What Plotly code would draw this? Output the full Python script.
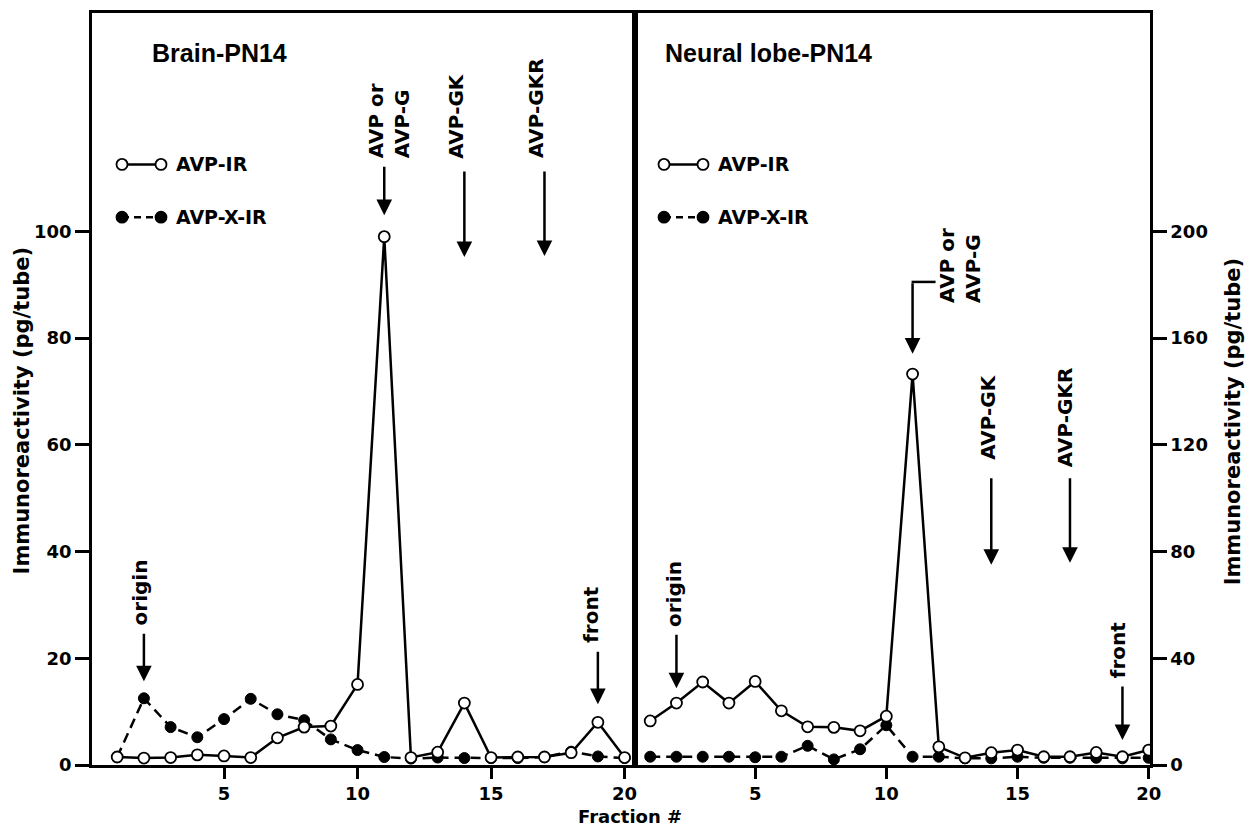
import plotly.graph_objects as go

# ---------------- data ----------------
fractions = list(range(1, 21))

brain_avp_ir = [1.5, 1.3, 1.4, 1.9, 1.7, 1.4, 5.1, 7.1, 7.3, 15.1,
                99.0, 1.4, 2.4, 11.6, 1.4, 1.5, 1.5, 2.3, 8.0, 1.4]
brain_avp_x_ir = [1.5, 12.5, 7.1, 5.2, 8.6, 12.4, 9.5, 8.4, 4.8, 2.8,
                  1.5, 1.2, 1.4, 1.3, 1.3, 1.3, 1.5, 2.5, 1.6, 1.3]

neural_avp_ir = [16.5, 23.2, 31.1, 23.2, 31.3, 20.3, 14.3, 14.1, 12.8, 18.3,
                 146.5, 6.8, 2.7, 4.6, 5.6, 3.1, 3.1, 4.7, 3.1, 5.6]
neural_avp_x_ir = [3.1, 3.1, 3.1, 3.1, 2.9, 3.1, 7.2, 2.1, 5.9, 14.9,
                   3.1, 3.1, 2.5, 2.5, 3.1, 2.7, 2.7, 2.7, 2.5, 2.7]

x_ticks = [5, 10, 15, 20]
left_yticks = [0, 20, 40, 60, 80, 100]
right_yticks = [0, 40, 80, 120, 160, 200]

# marker fractions for the arrows
origin_frac = 2
avp_frac = 11
gk_frac = 14
gkr_frac = 17
front_frac = 19

# ---------------- layout geometry ----------------
W, H = 1248, 829
L, R, T, B = 92, 1150, 10, 765
PW, PH = R - L, B - T


def px(x):
    return (x - L) / PW


def py(y):
    return (B - y) / PH


split = px(635)
FONT = "DejaVu Sans"
TITLE_FONT = "Liberation Sans"

fig = go.Figure()

open_marker = dict(symbol="circle", size=11, color="white",
                   line=dict(color="black", width=1.8))
filled_marker = dict(symbol="circle", size=11, color="black",
                     line=dict(color="black", width=1))
dash_line = dict(color="black", width=2.5, dash="10px,6px")
solid_line = dict(color="black", width=2.5)

for xa, ya, ir, xir in [("x", "y", brain_avp_ir, brain_avp_x_ir),
                        ("x2", "y2", neural_avp_ir, neural_avp_x_ir)]:
    fig.add_trace(go.Scatter(x=fractions, y=xir, mode="lines+markers",
                             line=dash_line, marker=filled_marker,
                             xaxis=xa, yaxis=ya, name="AVP-X-IR",
                             showlegend=False))
    fig.add_trace(go.Scatter(x=fractions, y=ir, mode="lines+markers",
                             line=solid_line, marker=open_marker,
                             xaxis=xa, yaxis=ya, name="AVP-IR",
                             showlegend=False))

tickfont = dict(family=FONT, size=18, color="black", weight="bold")
axis_common = dict(showline=True, linecolor="black", linewidth=2.5,
                   mirror=True, showgrid=False, zeroline=False,
                   ticks="outside", tickwidth=2.5,
                   tickcolor="black", tickfont=tickfont)

fig.update_layout(
    width=W, height=H,
    margin=dict(l=L, r=W - R, t=T, b=H - B),
    paper_bgcolor="white", plot_bgcolor="white",
    showlegend=False,
    xaxis=dict(domain=[0, split], range=[0.056, 20.39], tickvals=x_ticks,
               anchor="y", ticklen=11, **axis_common),
    yaxis=dict(domain=[0, 1], range=[0, 140.9], tickvals=left_yticks,
               anchor="x", ticklen=14, **axis_common),
    xaxis2=dict(domain=[split, 1], range=[0.42, 20.05], tickvals=x_ticks,
                anchor="y2", ticklen=11, **axis_common),
    yaxis2=dict(domain=[0, 1], range=[0, 281.8], tickvals=right_yticks,
                anchor="x2", side="right", ticklen=14, **axis_common),
)

ann_font = dict(family=FONT, size=20, color="black", weight="bold")
annotations = []
shapes = []


def label(text, xref, xval, xshift, ypix, yanchor, align="center"):
    annotations.append(dict(text=text, xref=xref, x=xval, xshift=xshift,
                            yref="paper", y=py(ypix), xanchor="center",
                            yanchor=yanchor, textangle=-90, showarrow=False,
                            font=ann_font, align=align))


def arrow(xref, xval, y_tail, y_tip):
    annotations.append(dict(text="", xref=xref, x=xval, yref="paper",
                            y=py(y_tip), ax=0, ay=y_tail - y_tip,
                            axref="pixel", ayref="pixel", showarrow=True,
                            arrowhead=2, arrowsize=1.25, arrowwidth=2.5,
                            arrowcolor="black"))


# ----- left panel (Brain) -----
label("AVP or<br>AVP-G", "x", avp_frac, 5, 158, "bottom", align="left")
arrow("x", avp_frac, 163, 213)
label("AVP-GK", "x", gk_frac, -8, 158, "bottom")
arrow("x", gk_frac, 168, 255)
label("AVP-GKR", "x", gkr_frac, -8, 157, "bottom")
arrow("x", gkr_frac, 168, 254)
label("origin", "x", origin_frac, -4, 627, "bottom")
arrow("x", origin_frac, 632, 681)
label("front", "x", front_frac, -7, 644, "bottom")
arrow("x", front_frac, 650, 704)

# ----- right panel (Neural lobe) -----
label("AVP or<br>AVP-G", "x2", avp_frac, 48, 303, "bottom", align="left")
arrow("x2", avp_frac, 280, 352)
shapes.append(dict(type="line", xref="x2", xsizemode="pixel", xanchor=avp_frac,
                   x0=-1, x1=23, yref="paper", y0=py(280), y1=py(280),
                   line=dict(color="black", width=2.5)))
label("AVP-GK", "x2", gk_frac, -4, 370, "top")
arrow("x2", gk_frac, 476, 564)
label("AVP-GKR", "x2", gkr_frac, -5, 468, "bottom")
arrow("x2", gkr_frac, 476, 562)
label("origin", "x2", origin_frac, -3, 628, "bottom")
arrow("x2", origin_frac, 633, 688)
label("front", "x2", front_frac, -5, 680, "bottom")
arrow("x2", front_frac, 685, 740)

# ----- panel titles -----
title_font = dict(family=TITLE_FONT, size=25, color="black", weight="bold")
annotations.append(dict(text="Brain-PN14", xref="paper", yref="paper",
                        x=px(150), y=py(50), xanchor="left", yanchor="middle",
                        showarrow=False, font=title_font))
annotations.append(dict(text="Neural lobe-PN14", xref="paper", yref="paper",
                        x=px(663), y=py(50), xanchor="left", yanchor="middle",
                        showarrow=False, font=title_font))

# ----- axis titles -----
axt_font = dict(family=FONT, size=21, color="black", weight="bold")
annotations.append(dict(text="Immunoreactivity (pg/tube)", xref="paper",
                        yref="paper", x=px(22), y=py(410), xanchor="center",
                        yanchor="middle", textangle=-90, showarrow=False,
                        font=axt_font))
annotations.append(dict(text="Immunoreactivity (pg/tube)", xref="paper",
                        yref="paper", x=px(1233), y=py(421), xanchor="center",
                        yanchor="middle", textangle=-90, showarrow=False,
                        font=axt_font))
annotations.append(dict(text="Fraction #", xref="paper", yref="paper",
                        x=px(630), y=py(829), xanchor="center",
                        yanchor="bottom", showarrow=False,
                        font=dict(family=FONT, size=18, color="black",
                                  weight="bold")))

# ----- legends (drawn glyphs + text) -----
leg_font = dict(family=FONT, size=19, color="black", weight="bold")
for dx in (0, 542):
    for row_y, text, filled, dash in [(162, "AVP-IR", False, "solid"),
                                      (215, "AVP-X-IR", True, "dash")]:
        c1, c2 = 122 + dx, 161 + dx
        shapes.append(dict(type="line", xref="paper", yref="paper",
                           x0=px(c1), x1=px(c2), y0=py(row_y), y1=py(row_y),
                           line=dict(color="black", width=2.5,
                                     dash="7px,5px" if dash == "dash" else "solid")))
        for cx in (c1, c2):
            shapes.append(dict(type="circle", xref="paper", yref="paper",
                               xsizemode="pixel", ysizemode="pixel",
                               xanchor=px(cx), yanchor=py(row_y),
                               x0=-5.5, x1=5.5, y0=-5.5, y1=5.5,
                               fillcolor="black" if filled else "white",
                               line=dict(color="black", width=1.8)))
        annotations.append(dict(text=text, xref="paper", yref="paper",
                                x=px(c2 + 13), y=py(row_y), xanchor="left",
                                yanchor="middle", showarrow=False,
                                font=leg_font))

fig.update_layout(annotations=annotations, shapes=shapes)
fig.write_html("out.html")
